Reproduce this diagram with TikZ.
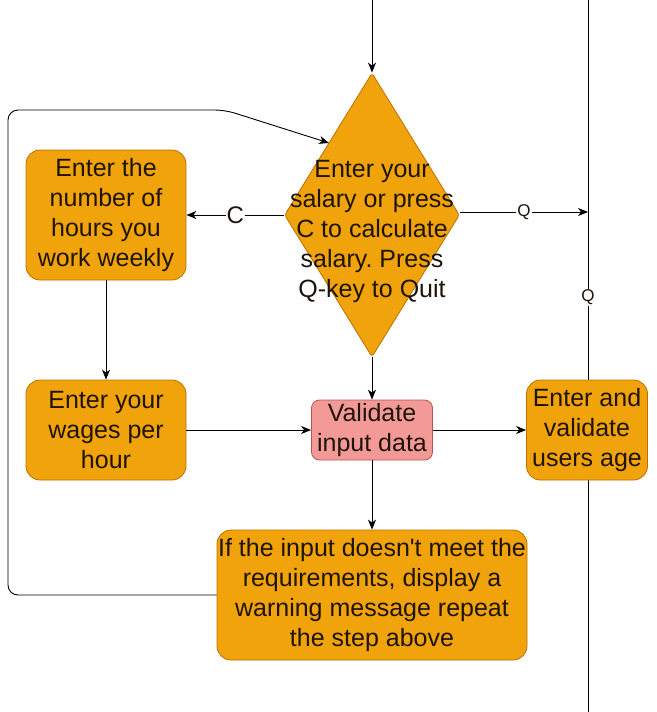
\documentclass[tikz,border=0pt]{standalone}
\usepackage{fontspec}
\setmainfont{Liberation Sans}[Ligatures=TeXOff]
\usetikzlibrary{shapes.geometric,arrows.meta}

\definecolor{boxorange}{HTML}{F0A30A}
\definecolor{boxedge}{HTML}{BD7000}
\definecolor{boxred}{HTML}{F39A98}
\definecolor{rededge}{HTML}{B85450}
\definecolor{txt}{HTML}{1F1408}

\tikzset{
	boxtext/.style={align=center, text=txt, font=\fontsize{25}{30}\selectfont,
		execute at begin node={\rule{0pt}{28pt}}},	%push the lines down a little
	stepbox/.style={boxtext, draw=boxedge, fill=boxorange, rounded corners=14pt, line width=0.8pt,
		inner sep=0pt},
	checkbox/.style={stepbox, draw=rededge, fill=boxred, rounded corners=8pt},
	flow/.style={line width=0.9pt, -{Stealth[length=10pt,width=8pt,inset=3pt]}},
	edgelabel/.style={fill=white, inner sep=1pt, text=txt}
}

\begin{document}
\frenchspacing
\begin{tikzpicture}[x=1pt,y=-1pt]
	\useasboundingbox (0,0) rectangle (656,712);	%page size of the reference
	\def\lx{588}	%x of the long vertical line on the right

	\draw[line width=0.9pt] (\lx,0) -- (\lx,712) node[pos=.418,edgelabel,font=\fontsize{17}{17}\selectfont] (qlab) {Q}; %quit line

	\node[draw=boxedge, fill=boxorange, diamond, minimum width=175pt, minimum height=284pt,
		inner sep=0pt, line width=0.8pt, rounded corners=3pt] (menu) at (372,215) {};
	\node[boxtext] (menutext) at (372,231)
		{Enter your\\salary or press\\C to calculate\\salary. Press\\Q-key to Quit};

	\node[stepbox, minimum width=160pt, minimum height=130pt] (hours) at (106,215)
		{Enter the\\number of\\hours you\\work weekly};
	\node[stepbox, minimum width=160pt, minimum height=100pt] (wages) at (106,430)
		{Enter your\\wages per\\hour};
	\node[checkbox, minimum width=121pt, minimum height=60pt] (check) at (372,430)
		{Validate\\input data};
	\node[stepbox, minimum width=121pt, minimum height=100pt] (age) at (587,430)
		{Enter and\\validate\\users age};
	\node[stepbox, minimum width=310pt, minimum height=130pt] (warn) at (372,595)
		{If the input doesn't meet the\\requirements, display a\\warning message repeat\\the step above};

	\coordinate (start) at (372,0);		%entry from above
	\coordinate (qend) at (\lx,212);	%end of the Q arrow on the line
	\coordinate (back) at (329,143);	%where the loop meets the diamond

	\draw[flow] (start) -- (menu.north);
	\draw[flow] (menu.west) -- node[edgelabel,font=\fontsize{24}{24}\selectfont] (clab) {C} (hours.east);
	\draw[flow] (menu.east |- qend) -- node[edgelabel,font=\fontsize{17}{17}\selectfont] {Q} (qend);
	\draw[flow] (hours.south) -- (wages.north);
	\draw[flow] (menu.south) -- (check.north);
	\draw[flow] (wages.east) -- (check.west);
	\draw[flow] (check.east) -- (age.west);
	\draw[flow] (check.south) -- (warn.north);
	\draw[flow, rounded corners=10pt] (warn.west) -- (8,595) -- (8,110) -- (225,110) -- (back); %loop back
\end{tikzpicture}
\end{document}
